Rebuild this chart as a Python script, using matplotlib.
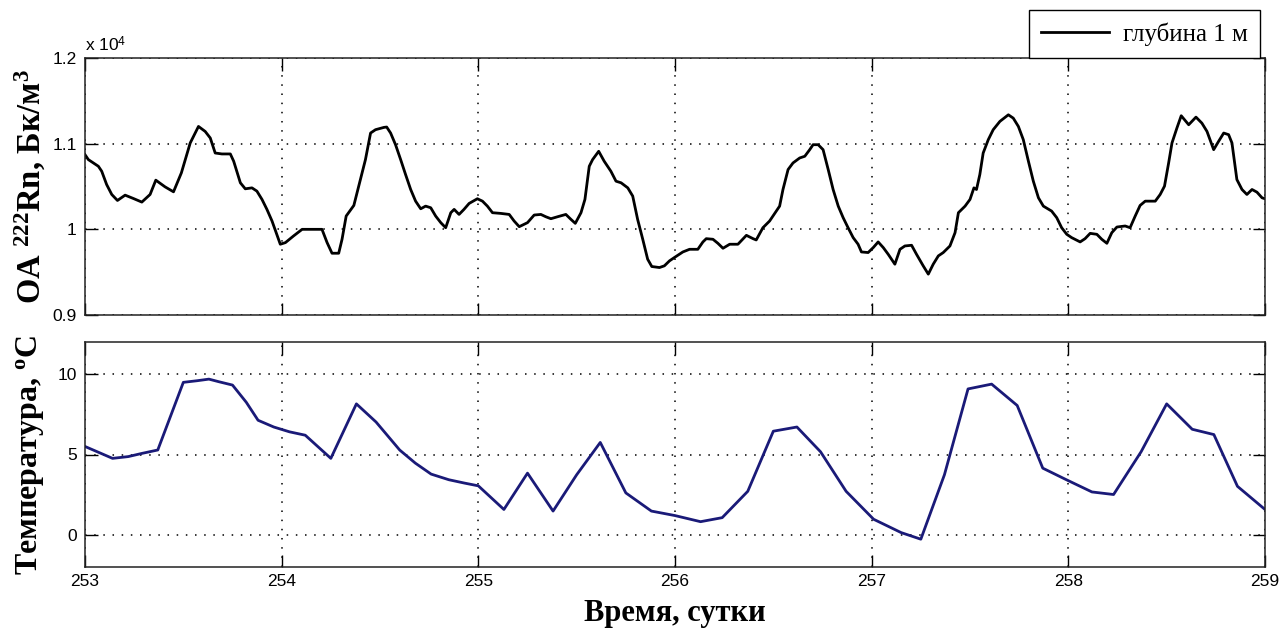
import matplotlib
matplotlib.use("Agg")
import matplotlib.pyplot as plt
from matplotlib.ticker import FixedLocator, FuncFormatter

# ---------------- data ----------------
radon_day = [253.00, 253.017, 253.068, 253.085, 253.11, 253.136, 253.165, 253.204, 253.246, 253.289,
             253.331, 253.36, 253.407, 253.45, 253.49, 253.535, 253.577, 253.611, 253.637, 253.662,
             253.696, 253.739, 253.756, 253.79, 253.815, 253.849, 253.874, 253.90, 253.925, 253.951,
             253.993, 254.019, 254.06, 254.104, 254.154, 254.205, 254.231, 254.256, 254.29, 254.307,
             254.328, 254.367, 254.392, 254.426, 254.452, 254.477, 254.52, 254.534, 254.554, 254.579,
             254.605, 254.63, 254.656, 254.681, 254.707, 254.732, 254.758, 254.783, 254.809, 254.834,
             254.86, 254.877, 254.902, 254.927, 254.953, 254.995, 255.021, 255.046, 255.072, 255.114,
             255.157, 255.182, 255.208, 255.25, 255.284, 255.318, 255.343, 255.369, 255.403, 255.445,
             255.471, 255.493, 255.522, 255.542, 255.564, 255.581, 255.612, 255.64, 255.674, 255.70,
             255.726, 255.76, 255.785, 255.81, 255.836, 255.861, 255.882, 255.921, 255.946, 255.972,
             255.997, 256.04, 256.074, 256.116, 256.142, 256.159, 256.193, 256.218, 256.244, 256.278,
             256.32, 256.363, 256.397, 256.413, 256.447, 256.481, 256.515, 256.532, 256.549, 256.575,
             256.60, 256.634, 256.66, 256.685, 256.702, 256.728, 256.753, 256.779, 256.804, 256.83,
             256.855, 256.88, 256.906, 256.931, 256.948, 256.982, 257.008, 257.033, 257.059, 257.084,
             257.118, 257.144, 257.169, 257.203, 257.228, 257.262, 257.288, 257.313, 257.339, 257.364,
             257.398, 257.424, 257.441, 257.475, 257.50, 257.52, 257.533, 257.55, 257.567, 257.593,
             257.618, 257.652, 257.695, 257.72, 257.746, 257.771, 257.797, 257.822, 257.848, 257.873,
             257.915, 257.941, 257.966, 257.992, 258.017, 258.06, 258.085, 258.111, 258.145, 258.17,
             258.196, 258.221, 258.247, 258.289, 258.314, 258.34, 258.365, 258.391, 258.442, 258.467,
             258.489, 258.51, 258.527, 258.552, 258.574, 258.612, 258.649, 258.679, 258.705, 258.739,
             258.764, 258.79, 258.815, 258.832, 258.857, 258.883, 258.908, 258.934, 258.959, 258.985,
             259.00]
radon_val = [10872, 10814, 10736, 10678, 10523, 10407, 10337, 10399, 10360, 10318,
             10407, 10574, 10496, 10438, 10659, 11008, 11201, 11143, 11066, 10891,
             10880, 10880, 10795, 10543, 10473, 10484, 10446, 10349, 10233, 10097,
             9826, 9845, 9922, 10000, 10000, 10000, 9845, 9721, 9721, 9884,
             10155, 10279, 10504, 10814, 11124, 11163, 11190, 11194, 11124, 10988,
             10814, 10640, 10465, 10329, 10240, 10271, 10252, 10155, 10078, 10019,
             10194, 10233, 10174, 10233, 10302, 10357, 10329, 10271, 10194, 10186,
             10174, 10097, 10031, 10078, 10167, 10174, 10147, 10124, 10147, 10174,
             10116, 10070, 10194, 10349, 10736, 10814, 10911, 10795, 10678, 10562,
             10543, 10484, 10388, 10116, 9884, 9651, 9566, 9554, 9574, 9632,
             9671, 9736, 9767, 9767, 9853, 9891, 9884, 9837, 9779, 9826,
             9826, 9930, 9891, 9876, 10019, 10097, 10213, 10271, 10465, 10698,
             10775, 10833, 10853, 10930, 10988, 10988, 10930, 10698, 10465, 10271,
             10136, 10019, 9903, 9826, 9736, 9729, 9787, 9853, 9787, 9709,
             9593, 9767, 9806, 9814, 9709, 9574, 9477, 9593, 9690, 9729,
             9806, 9961, 10194, 10271, 10349, 10484, 10465, 10640, 10891, 11047,
             11163, 11260, 11337, 11298, 11201, 11047, 10795, 10562, 10368, 10271,
             10213, 10136, 10019, 9942, 9903, 9853, 9891, 9953, 9942, 9884,
             9837, 9961, 10027, 10039, 10019, 10155, 10279, 10329, 10329, 10407,
             10504, 10775, 11008, 11182, 11326, 11221, 11310, 11240, 11143, 10930,
             11027, 11124, 11105, 11008, 10581, 10465, 10407, 10465, 10434, 10368,
             10357]

temp_day = [253.00, 253.14, 253.22, 253.29, 253.37, 253.50, 253.57, 253.63, 253.68, 253.75,
            253.82, 253.88, 253.96, 254.04, 254.12, 254.25, 254.38, 254.48, 254.60, 254.68,
            254.76, 254.85, 254.93, 255.00, 255.13, 255.25, 255.38, 255.50, 255.62, 255.75,
            255.88, 256.00, 256.13, 256.24, 256.37, 256.50, 256.62, 256.74, 256.87, 257.01,
            257.15, 257.25, 257.37, 257.49, 257.61, 257.74, 257.87, 257.99, 258.12, 258.23,
            258.37, 258.50, 258.63, 258.74, 258.86, 259.00]
temp_val = [5.5, 4.76, 4.87, 5.07, 5.28, 9.49, 9.59, 9.69, 9.53, 9.32,
            8.25, 7.13, 6.71, 6.41, 6.2, 4.76, 8.15, 7.02, 5.28, 4.46,
            3.78, 3.43, 3.22, 3.05, 1.58, 3.84, 1.48, 3.74, 5.75, 2.61,
            1.48, 1.2, 0.82, 1.07, 2.71, 6.45, 6.71, 5.17, 2.71, 0.97,
            0.14, -0.27, 3.74, 9.08, 9.38, 8.05, 4.15, 3.43, 2.67, 2.51,
            5.17, 8.15, 6.57, 6.24, 3.02, 1.58]

x_ticks = [253, 254, 255, 256, 257, 258, 259]
radon_ticks = [9000, 10000, 11000, 12000]
temp_ticks = [0, 5, 10]

legend_label = "глубина 1 м"
radon_ylabel = r"ОА $^{\mathbf{222}}$Rn, Бк/м$^{\mathbf{3}}$"
temp_ylabel = r"Температура, $^{\mathbf{o}}$C"
x_label = "Время, сутки"

# ---------------- style ----------------
plt.rcParams["font.family"] = ["Liberation Sans", "DejaVu Sans"]
plt.rcParams["mathtext.fontset"] = "custom"
plt.rcParams["mathtext.rm"] = "Liberation Serif:bold"
plt.rcParams["mathtext.bf"] = "Liberation Serif:bold"
plt.rcParams["mathtext.it"] = "Liberation Serif:bold"
plt.rcParams["mathtext.sf"] = "Liberation Sans"

W, H = 1280, 641
fig = plt.figure(figsize=(W / 100, H / 100), dpi=100)

def frac_box(x0, y0, x1, y1):
    return [x0 / W, 1 - y1 / H, (x1 - x0) / W, (y1 - y0) / H]

ax1 = fig.add_axes(frac_box(85, 58, 1265, 315))
ax2 = fig.add_axes(frac_box(85, 342, 1265, 567))

grid_kw = dict(color="black", linestyle=(0, (1, 5)), linewidth=1.1)
serif_bold = dict(family=["Liberation Serif", "DejaVu Serif"], weight="bold")

for ax in (ax1, ax2):
    ax.set_xlim(253, 259)
    ax.xaxis.set_major_locator(FixedLocator(x_ticks))
    ax.tick_params(direction="in", length=9, width=1.0, top=True, right=True,
                   labelsize=12.5, colors="black", pad=6)
    ax.tick_params(axis="x", pad=5)
    ax.grid(True, **grid_kw)
    for s in ax.spines.values():
        s.set_linewidth(1.1)
        s.set_color("#222222")

# top panel: radon
ax1.plot(radon_day, radon_val, color="black", linewidth=2.0, label=legend_label)
ax1.set_ylim(9000, 12000)
ax1.yaxis.set_major_locator(FixedLocator(radon_ticks))
ax1.yaxis.set_major_formatter(FuncFormatter(lambda v, p: ("%g" % (v / 1e4))))
ax1.tick_params(labelbottom=False)
ax1.set_ylabel(radon_ylabel, fontsize=23.5, labelpad=3, **serif_bold)
fig.text(85 / W, 1 - 51 / H, r"x 10$^{\mathsf{4}}$", fontsize=12.5, ha="left", va="baseline")

# bottom panel: temperature
ax2.plot(temp_day, temp_val, color="#1a1a78", linewidth=2.0)
ax2.set_ylim(-2, 12)
ax2.yaxis.set_major_locator(FixedLocator(temp_ticks))
ax2.set_ylabel(temp_ylabel, fontsize=23, labelpad=8, **serif_bold)
ax2.set_xlabel(x_label, fontsize=22, labelpad=7, **serif_bold)

# legend
leg = fig.legend(loc="lower right", bbox_to_anchor=(1260 / W, 1 - 58 / H),
                 frameon=True, fancybox=False, edgecolor="black", framealpha=1,
                 prop=dict(family=["Liberation Serif", "DejaVu Serif"], size=18),
                 handlelength=2.7, handletextpad=0.55, borderpad=0.5, borderaxespad=0)
leg.get_frame().set_linewidth(1.0)

fig.savefig("out.png", dpi=100)
